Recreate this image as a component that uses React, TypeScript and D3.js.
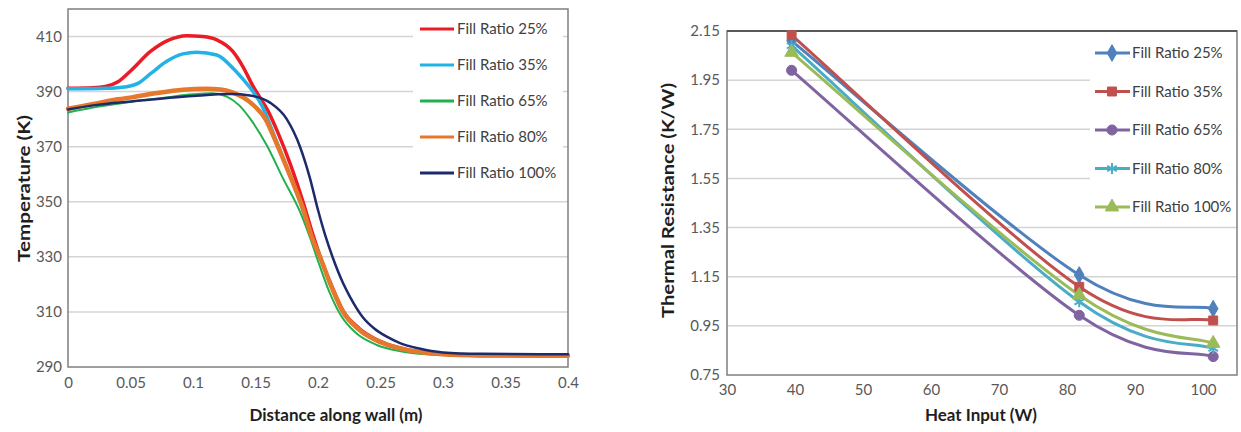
import React, { useEffect, useRef } from 'react';
import * as d3 from 'd3';

// ---- left chart: wall temperature profile ----
const leftNames = ['Fill Ratio 25%', 'Fill Ratio 35%', 'Fill Ratio 65%', 'Fill Ratio 80%', 'Fill Ratio 100%'];
const leftColors = ['#ec1c24', '#22b2e6', '#20b04e', '#e6782c', '#1d2a6b'];
const leftWidths = [3.5, 3.5, 2, 4.5, 2.5];
const distTicks = [0, 0.05, 0.1, 0.15, 0.2, 0.25, 0.3, 0.35, 0.4];
const tempTicks = [290, 310, 330, 350, 370, 390, 410];

const temp25 = [
  [0, 391.2], [0.02, 391.4], [0.03, 391.9], [0.04, 393.6], [0.05, 397.5], [0.066, 404.6], [0.08, 408.6],
  [0.095, 410.3], [0.108, 410], [0.119, 408.8], [0.132, 404.5], [0.14, 399], [0.148, 392], [0.152, 389],
  [0.16, 383], [0.168, 375], [0.178, 363.5], [0.188, 350], [0.196, 338], [0.203, 328.5], [0.21, 320.5],
  [0.22, 310.5], [0.233, 304], [0.25, 299.3], [0.266, 296.8], [0.28, 295.5], [0.3, 294.6], [0.33, 294.2], [0.4, 294.1],
];
const temp35 = [
  [0, 391], [0.03, 391.2], [0.047, 391.8], [0.056, 393], [0.066, 396.5], [0.079, 401], [0.092, 403.7],
  [0.103, 404.3], [0.119, 403.3], [0.132, 398.5], [0.14, 394.5], [0.148, 390], [0.155, 385],
  [0.165, 374], [0.176, 361.5], [0.186, 349.5], [0.196, 336], [0.2016, 330], [0.21, 320], [0.22, 310],
  [0.233, 303.5], [0.25, 299], [0.266, 296.7], [0.28, 295.5], [0.3, 294.6], [0.33, 294.2], [0.4, 294.1],
];
const temp65 = [
  [0, 382.4], [0.02, 384.2], [0.052, 386.4], [0.08, 388], [0.1, 389], [0.115, 389.4], [0.127, 388.2],
  [0.137, 385], [0.146, 380], [0.159, 370.5], [0.172, 358.5], [0.186, 346], [0.194, 336.5], [0.2, 328.5],
  [0.208, 318.5], [0.218, 309], [0.23, 302.5], [0.247, 298], [0.265, 295.8], [0.29, 294.5], [0.33, 294.1], [0.4, 294.1],
];
const temp80 = [
  [0, 383.8], [0.02, 385.5], [0.04, 387.2], [0.052, 388], [0.07, 389.4], [0.092, 390.7], [0.111, 391],
  [0.122, 390.8], [0.132, 389.6], [0.146, 386], [0.158, 380], [0.167, 371], [0.178, 359], [0.188, 347.5],
  [0.196, 336], [0.2016, 330], [0.21, 320], [0.22, 310], [0.233, 303.5], [0.25, 299], [0.266, 296.7],
  [0.28, 295.5], [0.3, 294.6], [0.33, 294.2], [0.4, 294.1],
];
const temp100 = [
  [0, 383.5], [0.02, 385], [0.052, 386.5], [0.1, 388.4], [0.13, 389.1], [0.1456, 388.6], [0.1616, 386],
  [0.175, 380], [0.1856, 370], [0.1936, 358.5], [0.2, 347], [0.206, 337.5], [0.212, 329.5], [0.22, 320.5],
  [0.2256, 315.5], [0.236, 308], [0.245, 304], [0.255, 301], [0.2656, 298.7], [0.28, 296.8], [0.3, 295.3],
  [0.33, 294.8], [0.4, 294.6],
];
const leftSeries = [temp25, temp35, temp65, temp80, temp100];

// ---- right chart: thermal resistance vs heat input ----
const rightNames = ['Fill Ratio 25%', 'Fill Ratio 35%', 'Fill Ratio 65%', 'Fill Ratio 80%', 'Fill Ratio 100%'];
const rightColors = ['#4f81bd', '#c0504d', '#8064a2', '#4bacc6', '#9bbb59'];
const rightMarkers = ['diamond', 'square', 'circle', 'star', 'triangle'];
const heatInput = [39.5, 81.8, 101.5];
const res25 = [2.11, 1.157, 1.02];
const res35 = [2.133, 1.109, 0.972];
const res65 = [1.99, 0.993, 0.825];
const res80 = [2.09, 1.048, 0.858];
const res100 = [2.063, 1.075, 0.879];
const rightSeries = [res25, res35, res65, res80, res100];
const heatTicks = [30, 40, 50, 60, 70, 80, 90, 100];
const resTicks = [0.75, 0.95, 1.15, 1.35, 1.55, 1.75, 1.95, 2.15];

const FONT = 'Lato, "Open Sans", sans-serif';
const TICK_COLOR = '#595959';
const TITLE_COLOR = '#1e1e1e';

// spreadsheet-style smoothed line: bezier with 1/6 tangents, ends clamped to the end point
function SmoothCurve(this: any, context: any) {
  this._context = context;
}
SmoothCurve.prototype = {
  areaStart() {},
  areaEnd() {},
  lineStart() {
    this._pts = [];
  },
  point(x: number, y: number) {
    this._pts.push([+x, +y]);
  },
  lineEnd() {
    const p = this._pts;
    const c = this._context;
    if (!p.length) return;
    c.moveTo(p[0][0], p[0][1]);
    for (let i = 0; i < p.length - 1; i++) {
      const prev = p[i - 1] || p[i];
      const next = p[i + 2] || p[i + 1];
      c.bezierCurveTo(
        p[i][0] + (p[i + 1][0] - prev[0]) / 6,
        p[i][1] + (p[i + 1][1] - prev[1]) / 6,
        p[i + 1][0] - (next[0] - p[i][0]) / 6,
        p[i + 1][1] - (next[1] - p[i][1]) / 6,
        p[i + 1][0],
        p[i + 1][1]
      );
    }
  },
};
const curveSmooth: any = (context: any) => new (SmoothCurve as any)(context);

const markerPath = (type: string) => {
  const sym: any = {
    diamond: d3.symbolDiamond,
    square: d3.symbolSquare,
    circle: d3.symbolCircle,
    star: d3.symbolAsterisk,
    triangle: d3.symbolTriangle,
  }[type];
  const size = type === 'diamond' ? 80 : type === 'star' ? 85 : 80;
  return d3.symbol(sym, size)();
};

// axis title, stretched to the width it has in the picture
const addTitle = (g: any, text: string, x: number, y: number, len: number, rotate: boolean) => {
  g.append('text')
    .attr('transform', rotate ? `translate(${x},${y}) rotate(-90)` : `translate(${x},${y})`)
    .attr('text-anchor', 'middle')
    .attr('textLength', len)
    .attr('lengthAdjust', 'spacingAndGlyphs')
    .attr('fill', TITLE_COLOR)
    .style('font-family', FONT)
    .style('font-weight', 'bold')
    .style('font-size', '17px')
    .text(text);
};

const App = () => {
  const svgRef = useRef<SVGSVGElement>(null);

  useEffect(() => {
    const root = d3.select(svgRef.current);
    root.selectAll('*').remove();
    root.append('rect').attr('width', 1241).attr('height', 432).attr('fill', 'white');

    // ---------- left chart ----------
    const L = { left: 68, right: 568, top: 9, bottom: 367 };
    const xL = d3.scaleLinear().domain([0, 0.4]).range([L.left, L.right]);
    const yL = d3.scaleLinear().domain([290, 420]).range([L.bottom, L.top]);
    const gL = root.append('g');

    gL.append('g')
      .selectAll('line')
      .data(tempTicks.slice(1))
      .enter()
      .append('line')
      .attr('x1', L.left)
      .attr('x2', L.right)
      .attr('y1', (d) => yL(d))
      .attr('y2', (d) => yL(d))
      .attr('stroke', '#d4d4d4')
      .attr('stroke-width', 1.5);

    // legend background hides grid
    gL.append('rect').attr('x', 413).attr('y', 12).attr('width', 150).attr('height', 182).attr('fill', 'white');

    gL.append('rect')
      .attr('x', L.left)
      .attr('y', L.top)
      .attr('width', L.right - L.left)
      .attr('height', L.bottom - L.top)
      .attr('fill', 'none')
      .attr('stroke', '#7f7f7f')
      .attr('stroke-width', 1.5);

    const lineL = d3
      .line<number[]>()
      .x((d) => xL(d[0]))
      .y((d) => yL(d[1]))
      .curve(d3.curveMonotoneX);

    leftSeries.forEach((s, i) => {
      gL.append('path')
        .attr('d', lineL(s))
        .attr('fill', 'none')
        .attr('stroke', leftColors[i])
        .attr('stroke-width', leftWidths[i])
        .attr('stroke-linecap', 'round');
    });

    const axL = gL.append('g').attr('transform', `translate(0,${L.bottom})`).call(
      d3.axisBottom(xL).tickValues(distTicks).tickSize(0).tickPadding(10).tickFormat((d) => String(d))
    );
    const ayL = gL.append('g').attr('transform', `translate(${L.left},0)`).call(
      d3.axisLeft(yL).tickValues(tempTicks).tickSize(0).tickPadding(6).tickFormat((d) => String(d))
    );
    [axL, ayL].forEach((a) => {
      a.select('.domain').remove();
      a.selectAll('text').attr('fill', TICK_COLOR).style('font-family', FONT).style('font-size', '15px');
    });

    addTitle(gL, 'Distance along wall (m)', 336, 421, 173, false);
    addTitle(gL, 'Temperature (K)', 30, 188.5, 147, true);

    leftNames.forEach((name, i) => {
      const y = 29 + i * 36;
      gL.append('line')
        .attr('x1', 420)
        .attr('x2', 454)
        .attr('y1', y)
        .attr('y2', y)
        .attr('stroke', leftColors[i])
        .attr('stroke-width', 3);
      gL.append('text')
        .attr('x', 457)
        .attr('y', y + 5)
        .attr('fill', '#404040')
        .style('font-family', FONT)
        .style('font-size', '15px')
        .text(name);
    });

    // ---------- right chart ----------
    const R = { left: 727, right: 1237, top: 31, bottom: 375 };
    const xR = d3.scaleLinear().domain([30, 105]).range([R.left, R.right]);
    const yR = d3.scaleLinear().domain([0.75, 2.15]).range([R.bottom, R.top]);
    const gR = root.append('g');

    gR.append('g')
      .selectAll('line')
      .data(resTicks.slice(1, -1))
      .enter()
      .append('line')
      .attr('x1', R.left)
      .attr('x2', R.right)
      .attr('y1', (d) => yR(d))
      .attr('y2', (d) => yR(d))
      .attr('stroke', '#d4d4d4')
      .attr('stroke-width', 1.5);

    gR.append('rect').attr('x', 1090).attr('y', 34).attr('width', 146).attr('height', 186).attr('fill', 'white');

    gR.append('rect')
      .attr('x', R.left)
      .attr('y', R.top)
      .attr('width', R.right - R.left)
      .attr('height', R.bottom - R.top)
      .attr('fill', 'none')
      .attr('stroke', '#7f7f7f')
      .attr('stroke-width', 1.5);
    gR.append('line')
      .attr('x1', R.left)
      .attr('x2', R.right)
      .attr('y1', R.top)
      .attr('y2', R.top)
      .attr('stroke', '#595959')
      .attr('stroke-width', 2);

    const lineR = d3
      .line<number>()
      .x((d, j) => xR(heatInput[j]))
      .y((d) => yR(d))
      .curve(curveSmooth);

    rightSeries.forEach((s, i) => {
      gR.append('path')
        .attr('d', lineR(s))
        .attr('fill', 'none')
        .attr('stroke', rightColors[i])
        .attr('stroke-width', 3);
    });
    rightSeries.forEach((s, i) => {
      gR.append('g')
        .selectAll('path')
        .data(s)
        .enter()
        .append('path')
        .attr('transform', (d, j) => `translate(${xR(heatInput[j])},${yR(d)})`)
        .attr('d', markerPath(rightMarkers[i]))
        .attr('fill', rightColors[i])
        .attr('stroke', rightColors[i])
        .attr('stroke-width', rightMarkers[i] === 'star' ? 2 : 1);
    });

    const axR = gR.append('g').attr('transform', `translate(0,${R.bottom})`).call(
      d3.axisBottom(xR).tickValues(heatTicks).tickSize(0).tickPadding(9).tickFormat((d) => String(d))
    );
    const ayR = gR.append('g').attr('transform', `translate(${R.left},0)`).call(
      d3.axisLeft(yR).tickValues(resTicks).tickSize(0).tickPadding(7).tickFormat((d) => d3.format('.2f')(d as number))
    );
    [axR, ayR].forEach((a) => {
      a.select('.domain').remove();
      a.selectAll('text').attr('fill', TICK_COLOR).style('font-family', FONT).style('font-size', '15px');
    });

    addTitle(gR, 'Heat Input (W)', 981, 421, 112, false);
    addTitle(gR, 'Thermal Resistance (K/W)', 674, 200.5, 235, true);

    rightNames.forEach((name, i) => {
      const y = 53 + i * 38.5;
      gR.append('line')
        .attr('x1', 1095)
        .attr('x2', 1130)
        .attr('y1', y)
        .attr('y2', y)
        .attr('stroke', rightColors[i])
        .attr('stroke-width', 3);
      gR.append('path')
        .attr('transform', `translate(1112,${y})`)
        .attr('d', markerPath(rightMarkers[i]))
        .attr('fill', rightColors[i])
        .attr('stroke', rightColors[i])
        .attr('stroke-width', rightMarkers[i] === 'star' ? 2 : 1);
      gR.append('text')
        .attr('x', 1132)
        .attr('y', y + 5)
        .attr('fill', '#404040')
        .style('font-family', FONT)
        .style('font-size', '15px')
        .text(name);
    });
  }, []);

  return (
    <svg
      ref={svgRef}
      width={1241}
      height={432}
      style={{ position: 'absolute', left: 0, top: 0, display: 'block' }}
    />
  );
};

export default App;
